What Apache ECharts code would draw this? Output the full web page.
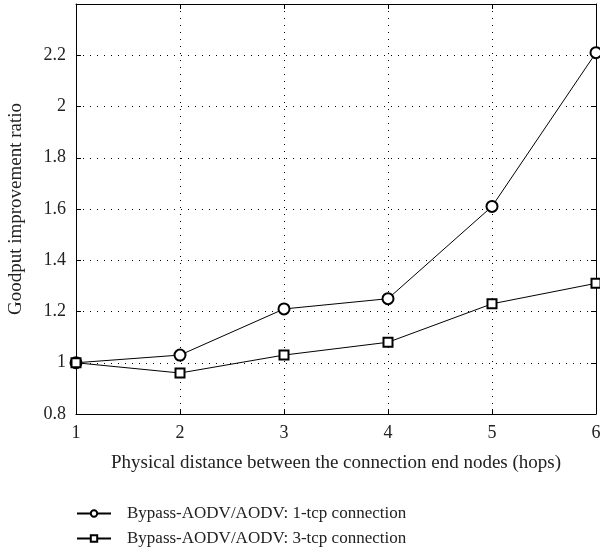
<!DOCTYPE html>
<html><head><meta charset="utf-8">
<script src="https://cdn.jsdelivr.net/npm/echarts@6/dist/echarts.min.js"></script>
<style>html,body{margin:0;padding:0;background:#fff}#c{width:600px;height:554px}</style>
</head><body><div id="c"></div>
<script>
const hops = [1, 2, 3, 4, 5, 6];
const oneTcp = [1.0, 1.03, 1.21, 1.25, 1.61, 2.21];
const threeTcp = [1.0, 0.96, 1.03, 1.08, 1.23, 1.31];
const seriesNames = ['Bypass-AODV/AODV: 1-tcp connection', 'Bypass-AODV/AODV: 3-tcp connection'];
const xTitle = 'Physical distance between the connection end nodes (hops)';
const yTitle = 'Goodput improvement ratio';

const font = 'Liberation Serif';
const chart = echarts.init(document.getElementById('c'), null, {renderer: 'canvas'});
const gridLine = {show: true, lineStyle: {color: '#000', type: [1, 6], width: 1}};
chart.setOption({
  animation: false,
  backgroundColor: '#fff',
  textStyle: {fontFamily: font, color: '#222'},
  grid: {left: 76, right: 4, top: 4, bottom: 140, outerBoundsMode: 'none', containLabel: false},
  legend: {
    orient: 'vertical', left: 71, top: 500, itemGap: 8, itemWidth: 34, itemHeight: 8,
    textStyle: {fontFamily: font, fontSize: 17, color: '#222', padding: [0, 0, 0, 11]},
    data: seriesNames
  },
  xAxis: [{
    type: 'value', min: 1, max: 6, interval: 1,
    name: xTitle, nameLocation: 'middle', nameGap: 40,
    nameTextStyle: {fontFamily: font, fontSize: 19, color: '#222'},
    axisLine: {lineStyle: {color: '#000', width: 1}},
    axisTick: {inside: true, length: 5, lineStyle: {color: '#000'}},
    axisLabel: {fontFamily: font, fontSize: 18, color: '#222', margin: 10},
    splitLine: gridLine
  }, {
    type: 'value', min: 1, max: 6, interval: 1, position: 'top',
    axisLine: {show: true, lineStyle: {color: '#000', width: 1}},
    axisTick: {show: true, inside: true, length: 5, lineStyle: {color: '#000'}},
    axisLabel: {show: false}, splitLine: {show: false}
  }],
  yAxis: [{
    type: 'value', min: 0.8, max: 2.4, interval: 0.2,
    name: yTitle, nameLocation: 'middle', nameGap: 50, nameRotate: 90,
    nameTextStyle: {fontFamily: font, fontSize: 19, color: '#222'},
    axisLine: {show: true, lineStyle: {color: '#000', width: 1}},
    axisTick: {show: true, inside: true, length: 5, lineStyle: {color: '#000'}},
    axisLabel: {fontFamily: font, fontSize: 18, color: '#222', margin: 10,
      formatter: v => (Math.abs(v - 2.4) < 1e-6 ? '' : String(+v.toFixed(1)))},
    splitLine: gridLine
  }, {
    type: 'value', min: 0.8, max: 2.4, interval: 0.2, position: 'right',
    axisLine: {show: true, lineStyle: {color: '#000', width: 1}},
    axisTick: {show: true, inside: true, length: 5, lineStyle: {color: '#000'}},
    axisLabel: {show: false}, splitLine: {show: false}
  }],
  series: [{
    name: seriesNames[0], type: 'line',
    data: hops.map((h, i) => [h, oneTcp[i]]),
    symbol: 'emptyCircle', symbolSize: 11,
    itemStyle: {color: '#000', borderColor: '#000', borderWidth: 1},
    lineStyle: {color: '#000', width: 1}
  }, {
    name: seriesNames[1], type: 'line',
    data: hops.map((h, i) => [h, threeTcp[i]]),
    symbol: 'emptyRect', symbolSize: 9,
    itemStyle: {color: '#000', borderColor: '#000', borderWidth: 1},
    lineStyle: {color: '#000', width: 1}
  }]
});
</script></body></html>
